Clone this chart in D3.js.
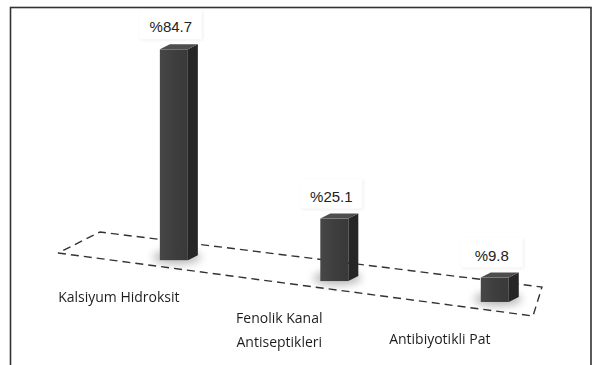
<!DOCTYPE html>
<html>
<head>
<meta charset="utf-8">
<script src="https://cdn.jsdelivr.net/npm/d3@7"></script>
<style>
  html, body { margin: 0; padding: 0; background: #fff; }
  svg { display: block; }
</style>
</head>
<body>
<svg id="chart" width="593" height="365"></svg>
<script>
// Data
const categories = ["Kalsiyum Hidroksit", "Fenolik Kanal Antiseptikleri", "Antibiyotikli Pat"];
const categoryLines = [["Kalsiyum Hidroksit"], ["Fenolik Kanal", "Antiseptikleri"], ["Antibiyotikli Pat"]];
const values = [84.7, 25.1, 9.8];
const valueLabels = ["%84.7", "%25.1", "%9.8"];

const svg = d3.select("#chart");
const defs = svg.append("defs");

defs.append("filter").attr("id", "soft").attr("x", "-50%").attr("y", "-50%").attr("width", "200%").attr("height", "200%")
  .append("feGaussianBlur").attr("stdDeviation", 4);
defs.append("filter").attr("id", "haze").attr("x", "-10%").attr("y", "-30%").attr("width", "120%").attr("height", "160%")
  .append("feGaussianBlur").attr("stdDeviation", 0.5);
defs.append("filter").attr("id", "boxShadow").attr("x", "-20%").attr("y", "-20%").attr("width", "140%").attr("height", "140%")
  .append("feGaussianBlur").attr("stdDeviation", 1.5);

const frontGrad = defs.append("linearGradient").attr("id", "front").attr("x1", 0).attr("x2", 1).attr("y1", 0).attr("y2", 0);
frontGrad.append("stop").attr("offset", 0).attr("stop-color", "#474747");
frontGrad.append("stop").attr("offset", 0.5).attr("stop-color", "#3e3e3e");
frontGrad.append("stop").attr("offset", 1).attr("stop-color", "#393939");

// Outer frame
svg.append("rect")
  .attr("x", 10.5).attr("y", 7.5).attr("width", 580.5).attr("height", 400)
  .attr("fill", "none").attr("stroke", "#333").attr("stroke-width", 1.6);

// Floor quad corners (front-left, front-right, back-right, back-left)
const floorFL = [58, 253], floorFR = [533, 316], floorBR = [542, 287], floorBL = [100, 232];
function floorPt(u, v) {
  const fx = floorFL[0] + (floorFR[0] - floorFL[0]) * u, fy = floorFL[1] + (floorFR[1] - floorFL[1]) * u;
  const bx = floorBL[0] + (floorBR[0] - floorBL[0]) * u, by = floorBL[1] + (floorBR[1] - floorBL[1]) * u;
  return [fx + (bx - fx) * v, fy + (by - fy) * v];
}

// Scales: category position along the floor, value as column height
const u = d3.scalePoint().domain(categories).range([0.222, 0.912]);
const h = d3.scaleLinear().domain([0, 90]).range([0, 224]);

// Floor outline
svg.append("path")
  .attr("d", d3.line()([floorFL, floorFR, floorBR, floorBL, floorFL]))
  .attr("fill", "none").attr("stroke", "#333").attr("stroke-width", 1.4)
  .attr("stroke-dasharray", "8,5");

const barW = 28, depthX = 10, depthY = -5;

const bars = categories.map((c, i) => {
  const [cx, by] = floorPt(u(c), 0.3);
  const x0 = cx - barW / 2;
  const top = by - h(values[i]);
  return { c, i, cx, x0, by, top };
});

// Soft floor shadows
svg.append("g").selectAll("ellipse").data(bars).join("ellipse")
  .attr("cx", d => d.x0 + barW / 2 + 3).attr("cy", d => d.by - 3)
  .attr("rx", 24).attr("ry", 7)
  .attr("fill", "#000").attr("opacity", 0.28).attr("filter", "url(#soft)");

const g = svg.append("g");
// Side face
g.selectAll("path.side").data(bars).join("path").attr("class", "side")
  .attr("d", d => d3.line()([
    [d.x0 + barW, d.top], [d.x0 + barW + depthX, d.top + depthY],
    [d.x0 + barW + depthX, d.by + depthY], [d.x0 + barW, d.by]]) + "Z")
  .attr("fill", "#262626");
// Front face
g.selectAll("rect.front").data(bars).join("rect").attr("class", "front")
  .attr("x", d => d.x0).attr("y", d => d.top)
  .attr("width", barW).attr("height", d => d.by - d.top)
  .attr("fill", "url(#front)");
// Top face
g.selectAll("path.top").data(bars).join("path").attr("class", "top")
  .attr("d", d => d3.line()([
    [d.x0, d.top], [d.x0 + barW, d.top],
    [d.x0 + barW + depthX, d.top + depthY], [d.x0 + depthX, d.top + depthY]]) + "Z")
  .attr("fill", "#4d4d4d");

// Value labels with white boxes
const lab = svg.append("g").selectAll("g").data(bars).join("g")
  .attr("transform", d => `translate(${d.cx - 3},${d.top + depthY - 12})`);
lab.append("rect")
  .attr("x", -30).attr("y", -22).attr("width", 62).attr("height", 30)
  .attr("fill", "#000").attr("opacity", 0.07).attr("filter", "url(#boxShadow)");
lab.append("rect")
  .attr("x", -31).attr("y", -23).attr("width", 62).attr("height", 30)
  .attr("fill", "#fff");
lab.append("text")
  .attr("text-anchor", "middle")
  .attr("font-family", "'Liberation Sans', Arial, sans-serif")
  .attr("font-size", 15).attr("fill", "#222")
  .text(d => valueLabels[d.i]);

// Category labels, set down-left of each column base
const catG = svg.append("g").attr("filter", "url(#haze)");
catG.selectAll("text").data(bars).join("text")
  .attr("text-anchor", "middle")
  .attr("font-family", "'Open Sans', sans-serif")
  .attr("font-size", 14).attr("fill", "#1e1e1e")
  .attr("y", d => d.by + 42)
  .each(function(d) {
    const t = d3.select(this);
    categoryLines[d.i].forEach((line, k) => {
      t.append("tspan").attr("x", d.cx - 55).attr("dy", k === 0 ? 0 : 24).text(line);
    });
  });
</script>
</body>
</html>
